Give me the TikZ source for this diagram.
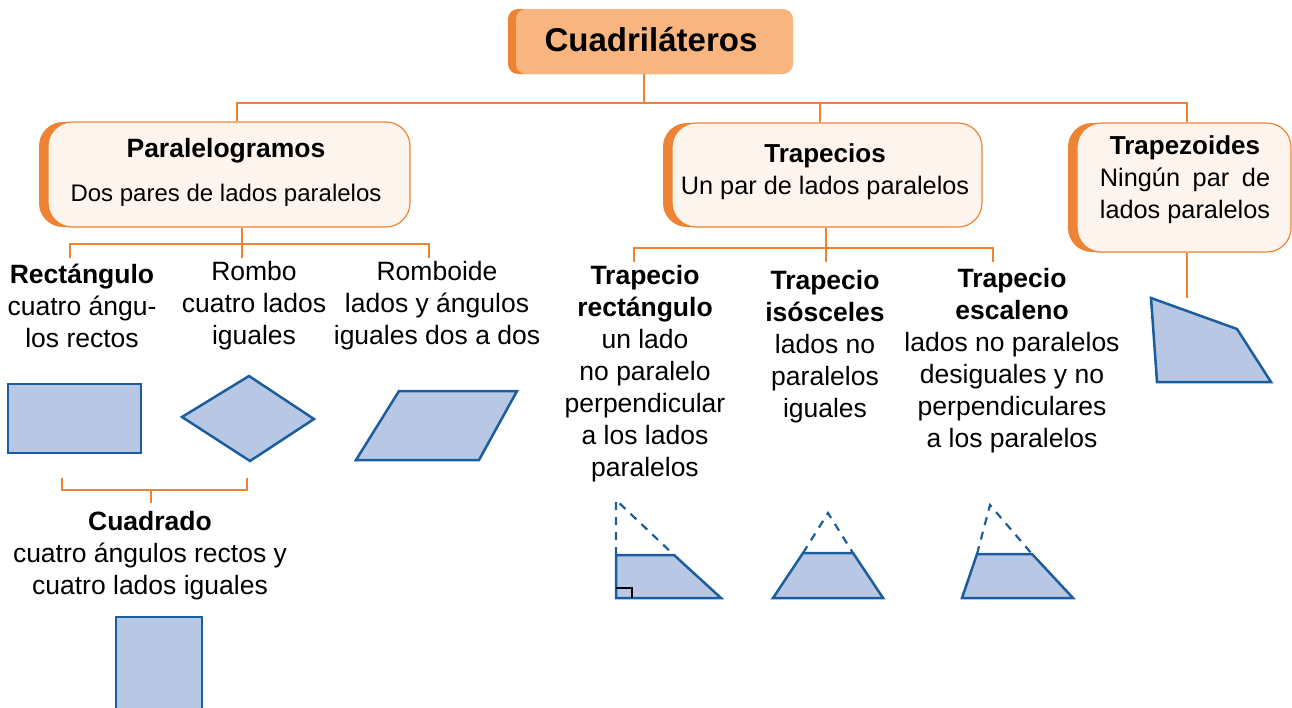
\documentclass[tikz,border=0pt]{standalone}
\usepackage{fontspec}
\setmainfont{Liberation Sans}
\usetikzlibrary{shadows}
\definecolor{naranja}{HTML}{EE8433}
\definecolor{durazno}{HTML}{F8B57F}
\definecolor{crema}{HTML}{FDF4EE}
\definecolor{relleno}{HTML}{B8C7E4}
\definecolor{borde}{HTML}{1C5D9D}
\newlength\anchoL

\begin{document}
\begin{tikzpicture}[x=1pt, y=-1pt, line join=miter,
    linea/.style = {naranja, line width=2pt},
    titulo/.style = {fill=durazno, rounded corners=10pt, inner sep=0pt, general shadow={fill=naranja, shadow xshift=-8pt, shadow yshift=0pt}},
    caja/.style = {draw=naranja, line width=1.2pt, fill=crema, rounded corners=24pt, inner sep=0pt, general shadow={fill=naranja, shadow xshift=-9pt, shadow yshift=0pt}},
    texto/.style = {align=center, inner sep=0pt, font=\fontsize{26.5}{32}\selectfont},
    textocaja/.style = {align=center, inner sep=0pt, font=\fontsize{25.3}{32}\selectfont},
    figura/.style = {draw=borde, fill=relleno, line width=2.5pt},
    guion/.style = {draw=borde, line width=2.2pt, dash pattern=on 8pt off 7pt}]
    \useasboundingbox (0,0) rectangle (1292,707);

    \node[titulo, minimum width=277pt, minimum height=65pt] (cuad) at (654.5,41.5) {};
    \node[texto, font=\fontsize{33}{36}\selectfont\bfseries] (cuadt) at (651,40) {Cuadriláteros};

    \node[caja, minimum width=362pt, minimum height=105pt] (paral) at (229,174.5) {};
    \node[textocaja] (paralt) at (226,172) {{\fontsize{26.5}{32}\selectfont\bfseries Paralelogramos}\\[12pt]{\fontsize{24}{32}\selectfont Dos pares de lados paralelos}};
    \node[caja, minimum width=310pt, minimum height=104pt] (trapc) at (827,175) {};
    \node[textocaja] (trapct) at (825,172) {{\fontsize{26}{32}\selectfont\bfseries Trapecios}\\Un par de lados paralelos};
    \node[caja, minimum width=214pt, minimum height=129pt] (trapz) at (1184,187.5) {};
    \node[textocaja] (trapzt) at (1185,180) {{\fontsize{26}{32}\selectfont\bfseries Trapezoides}\\\settowidth{\anchoL}{lados paralelos}\makebox[\anchoL][s]{Ningún par de}\\lados paralelos};

    \coordinate (b1) at (237,103);
    \coordinate (b2) at (820,103);
    \coordinate (b3) at (1187,103);
    \coordinate (b0) at (644,103);
    \draw[linea] (cuad.south -| b0) -- (b0);
    \draw[linea] (paral.north -| b1) |- (b3) -- (trapz.north -| b3);
    \draw[linea] (b2) -- (trapc.north -| b2);

    \node[texto] (rect) at (82,306) {\textbf{Rectángulo}\\cuatro ángu-\\los rectos};
    \node[texto] (rombo) at (254,306) {Rombo\\cuatro lados\\iguales};
    \node[texto] (romboide) at (437,306) {Romboide\\lados y ángulos\\iguales dos a dos};
    \coordinate (p1) at (70,258);
    \coordinate (p2) at (242,258);
    \coordinate (p3) at (429,258);
    \draw[linea] (paral.south -| p2) -- (p2);
    \draw[linea] (p1) -- ++(0,-14) -| (p3);

    \node[texto] (trect) at (645,374) {\textbf{Trapecio}\\\textbf{rectángulo}\\un lado\\no paralelo\\perpendicular\\a los lados\\paralelos};
    \node[texto] (tisos) at (825,347) {\textbf{Trapecio}\\\textbf{isósceles}\\lados no\\paralelos\\iguales};
    \node[texto] (tesca) at (1012,361) {\textbf{Trapecio}\\\textbf{escaleno}\\lados no paralelos\\desiguales y no\\perpendiculares\\a los paralelos};
    \coordinate (t1) at (634,262);
    \coordinate (t2) at (826,262);
    \coordinate (t3) at (993,262);
    \draw[linea] (trapc.south -| t2) -- (t2);
    \draw[linea] (t1) -- ++(0,-14) -| (t3);
    \draw[linea] (trapz.south -| b3) -- ++(0,45);

    \filldraw[figura] (8,384) rectangle (141,453);
    \filldraw[figura] (182,417) -- (249,376) -- (314,419) -- (250,461) -- cycle;
    \filldraw[figura] (356,460) -- (399,391) -- (517,391) -- (479,460) -- cycle;

    \coordinate (c1) at (62,478);
    \coordinate (c2) at (247,478);
    \coordinate (c3) at (151,503);
    \draw[linea] (c1) -- ++(0,12) -| (c2);
    \draw[linea] (c3) -- ++(0,-13);
    \node[texto] (cuadrado) at (150,556) {\textbf{Cuadrado}\\cuatro ángulos rectos y\\cuatro lados iguales};
    \filldraw[figura] (116,617) rectangle (202,712);

    \filldraw[figura] (616,598) -- (616,555) -- (674,555) -- (721,598) -- cycle;
    \draw[guion] (616,555) -- (616,500) -- (674,555);
    \draw[black, line width=1.3pt] (616,588) -| (632,598);
    \filldraw[figura] (773,598) -- (803,553) -- (853,553) -- (883,598) -- cycle;
    \draw[guion] (803,553) -- (828,513) -- (853,553);
    \filldraw[figura] (962,598) -- (977,554) -- (1032,554) -- (1073,598) -- cycle;
    \draw[guion] (977,554) -- (990,505) -- (1032,554);
    \filldraw[figura] (1151,298) -- (1237,329) -- (1271,382) -- (1157,382) -- cycle;
\end{tikzpicture}
\end{document}
